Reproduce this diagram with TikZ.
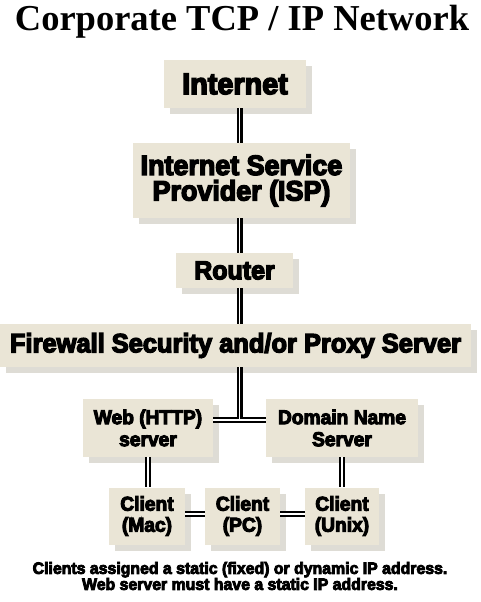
\documentclass[tikz,border=0pt]{standalone}
\usepackage{fontspec}
\setmainfont{Liberation Serif}
\newfontfamily\boxfont[FakeStretch=0.96,FakeBold=5]{Liberation Sans}
\usetikzlibrary{shadows}
\definecolor{boxfill}{RGB}{234,229,214}
\definecolor{boxshade}{RGB}{222,220,213}

\tikzset{
  netbox/.style={fill=boxfill, inner sep=0pt, align=center,
    drop shadow={shadow xshift=6pt, shadow yshift=-6pt, fill=boxshade, opacity=1}},
  link/.style={draw=black, line width=2.1pt, double=white, double distance=1.8pt},
}
\newcommand{\boxsize}[2]{\boxfont\bfseries\fontsize{#1}{#2}\selectfont}

\begin{document}
\begin{tikzpicture}[x=1pt,y=-1pt]
\useasboundingbox (0,0) rectangle (480,602);

\node[anchor=base, font=\bfseries\fontsize{36.5}{36}\selectfont] (title) at (242,31) {Corporate TCP / IP Network};

% main chain
\node[netbox, minimum width=142pt, minimum height=48pt, font=\boxsize{30}{30}] (inet) at (235,84) {Internet};
\node[netbox, minimum width=217pt, minimum height=75pt, font=\boxsize{28}{25.5}] (isp) at (241.5,180.5) {Internet Service\\Provider (ISP)};
\node[netbox, minimum width=117pt, minimum height=35pt, font=\boxsize{26}{26}] (router) at (234.5,270.5) {Router};
\node[netbox, minimum width=471pt, minimum height=43pt, font=\boxsize{26.5}{26}] (fw) at (235.5,345.5) {Firewall Security and/or Proxy Server};

% servers
\node[netbox, minimum width=130pt, minimum height=58pt, font=\boxsize{20}{22}] (web) at (148,428) {Web (HTTP)\\server};
\node[netbox, minimum width=152pt, minimum height=58pt, font=\boxsize{20}{22}] (dns) at (342,428) {Domain Name\\Server};

% clients
\node[netbox, minimum width=76pt, minimum height=57pt, font=\boxsize{20}{21}] (mac) at (147,516) {Client\\(Mac)};
\node[netbox, minimum width=75pt, minimum height=57pt, font=\boxsize{20}{21}] (pc) at (242.5,516) {Client\\(PC)};
\node[netbox, minimum width=74pt, minimum height=57pt, font=\boxsize{20}{21}] (unix) at (342,516) {Client\\(Unix)};

\node[align=center, font=\boxsize{16.5}{16}] (note) at (240,576) {Clients assigned a static (fixed) or dynamic IP address.\\Web server must have a static IP address.};

% connectors
\coordinate (spine) at (239.5,0);
\draw[link] (inet.south -| spine) -- (isp.north -| spine);
\draw[link] (isp.south -| spine) -- (router.north -| spine);
\draw[link] (router.south -| spine) -- (fw.north -| spine);

\coordinate (hub) at (239.5,420);
\draw[link] (web.east |- hub) -- (dns.west |- hub);
\draw[link] (fw.south -| hub) -- ([yshift=0.9pt]hub);

\draw[link] (web.south) -- (web.south |- mac.north);
\draw[link] (dns.south) -- (dns.south |- unix.north);
\draw[link] ([yshift=2pt]mac.east) -- ([yshift=2pt]mac.east -| pc.west);
\draw[link] ([yshift=2pt]pc.east) -- ([yshift=2pt]pc.east -| unix.west);
\end{tikzpicture}
\end{document}
